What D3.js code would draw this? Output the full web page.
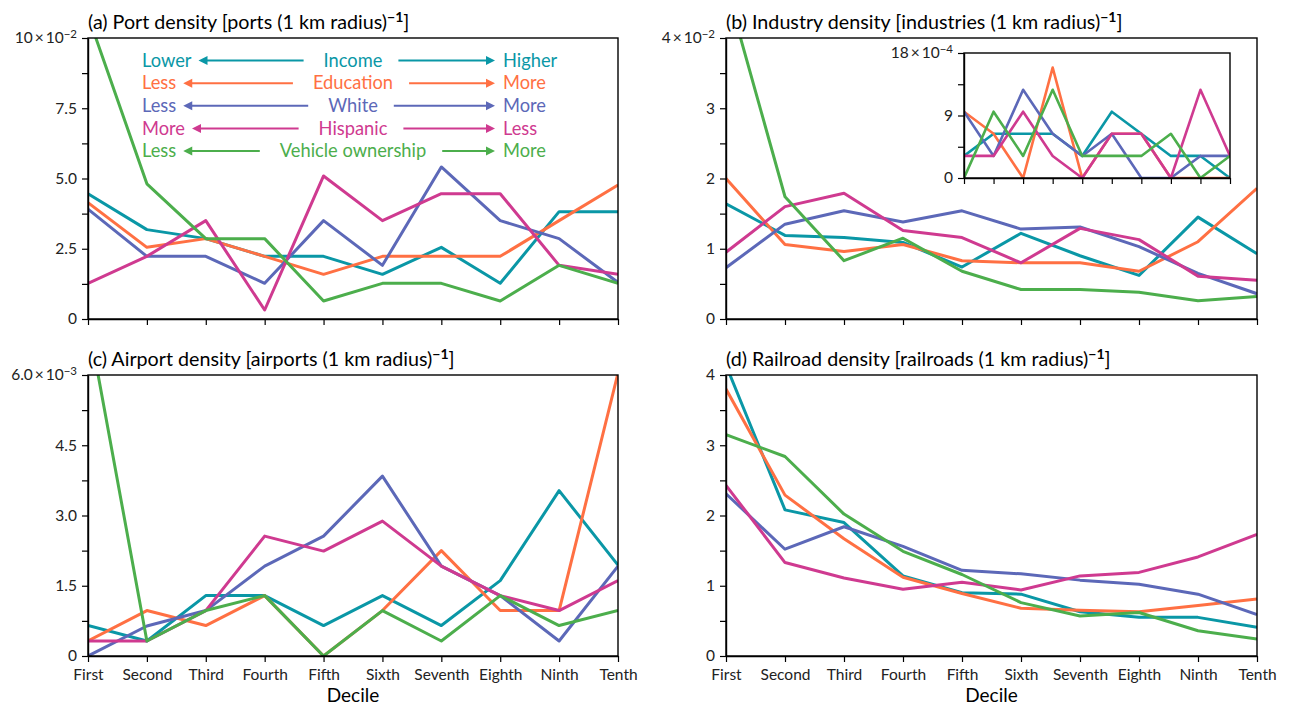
<!DOCTYPE html>
<html>
<head>
<meta charset="utf-8">
<script src="https://cdn.jsdelivr.net/npm/d3@7"></script>
<style>
  body { margin: 0; background: #fff; }
  svg { display: block; font-family: Lato, "Open Sans", sans-serif; }
</style>
</head>
<body>
<svg id="chart" width="1289" height="706"></svg>
<script>
// ---- data -------------------------------------------------------------
const deciles = ["First", "Second", "Third", "Fourth", "Fifth", "Sixth", "Seventh", "Eighth", "Ninth", "Tenth"];
const groups = ["Income", "Education", "White", "Hispanic", "Vehicle ownership"];
const lowLabels = ["Lower", "Less", "Less", "More", "Less"];
const highLabels = ["Higher", "More", "More", "Less", "More"];
const groupColors = ["#0a97a6", "#ff7043", "#5c68b8", "#cf3a90", "#4cae4c"];

// one row per group (Income, Education, White, Hispanic, Vehicle ownership)
// port density, x 1e-2
const portDensity = [
  [4.46, 3.18, 2.86, 2.23, 2.23, 1.59, 2.55, 1.27, 3.82, 3.82],
  [4.14, 2.55, 2.86, 2.23, 1.59, 2.23, 2.23, 2.23, 3.50, 4.77],
  [3.91, 2.23, 2.23, 1.27, 3.50, 1.91, 5.41, 3.50, 2.86, 1.30],
  [1.27, 2.23, 3.50, 0.32, 5.09, 3.50, 4.46, 4.46, 1.91, 1.59],
  [10.8, 4.81, 2.86, 2.86, 0.64, 1.27, 1.27, 0.64, 1.91, 1.27]
];
// industry density, x 1e-2
const industryDensity = [
  [1.64, 1.19, 1.16, 1.09, 0.74, 1.22, 0.90, 0.62, 1.45, 0.93],
  [2.00, 1.06, 0.96, 1.06, 0.83, 0.80, 0.80, 0.68, 1.10, 1.86],
  [0.73, 1.35, 1.54, 1.38, 1.54, 1.28, 1.31, 1.03, 0.65, 0.36],
  [0.95, 1.60, 1.79, 1.26, 1.16, 0.80, 1.29, 1.13, 0.61, 0.55],
  [4.74, 1.74, 0.83, 1.15, 0.68, 0.42, 0.42, 0.38, 0.26, 0.32]
];
// industry density inset, x 1e-4
const industryInset = [
  [3.18, 6.37, 6.37, 6.37, 3.18, 9.55, 6.37, 3.18, 3.18, 0],
  [9.55, 6.37, 0, 15.9, 0, 6.37, 6.37, 0, 0, 0],
  [9.55, 3.18, 12.7, 6.37, 3.18, 6.37, 0, 0, 3.18, 3.18],
  [3.18, 3.18, 9.55, 3.18, 0, 6.37, 6.37, 0, 12.7, 3.18],
  [0, 9.55, 3.18, 12.7, 3.18, 3.18, 3.18, 6.37, 0, 3.18]
];
// airport density, x 1e-3
const airportDensity = [
  [0.65, 0.32, 1.29, 1.29, 0.65, 1.29, 0.65, 1.61, 3.53, 1.94],
  [0.32, 0.97, 0.65, 1.29, 0, 0.97, 2.25, 0.97, 0.97, 6.04],
  [0, 0.64, 0.97, 1.92, 2.56, 3.84, 1.92, 1.29, 0.32, 1.92],
  [0.32, 0.32, 0.97, 2.56, 2.24, 2.88, 1.92, 1.29, 0.97, 1.61],
  [7.18, 0.32, 0.97, 1.29, 0, 0.97, 0.32, 1.29, 0.65, 0.97]
];
// railroad density
const railroadDensity = [
  [4.14, 2.08, 1.90, 1.14, 0.90, 0.88, 0.63, 0.55, 0.55, 0.41],
  [3.80, 2.29, 1.67, 1.12, 0.89, 0.68, 0.65, 0.63, 0.72, 0.81],
  [2.31, 1.52, 1.84, 1.56, 1.22, 1.17, 1.08, 1.02, 0.88, 0.59],
  [2.43, 1.33, 1.11, 0.95, 1.05, 0.94, 1.14, 1.19, 1.41, 1.73],
  [3.15, 2.84, 2.02, 1.49, 1.16, 0.76, 0.57, 0.62, 0.36, 0.24]
];

const portTicks = [0, 2.5, 5.0, 7.5, 10];
const portTickLabels = ["0", "2.5", "5.0", "7.5", "10"];
const industryTicks = [0, 1, 2, 3, 4];
const industryTickLabels = ["0", "1", "2", "3", "4"];
const insetTicks = [0, 9, 18];
const insetTickLabels = ["0", "9", "18"];
const airportTicks = [0, 1.5, 3.0, 4.5, 6.0];
const airportTickLabels = ["0", "1.5", "3.0", "4.5", "6.0"];
const railroadTicks = [0, 1, 2, 3, 4];
const railroadTickLabels = ["0", "1", "2", "3", "4"];

// ---- drawing ----------------------------------------------------------
const svg = d3.select("#chart");
let clipId = 0;

function withMinor(ticks) {
  const out = [];
  ticks.forEach((t, i) => {
    out.push(t);
    if (i < ticks.length - 1) out.push((t + ticks[i + 1]) / 2);
  });
  return out;
}

function drawPanel(cfg) {
  const g = svg.append("g");
  const x = d3.scalePoint().domain(deciles).range([cfg.x0, cfg.x1]);
  const y = d3.scaleLinear().domain([0, cfg.ticks[cfg.ticks.length - 1]]).range([cfg.y1, cfg.y0]);

  if (cfg.background) {
    g.append("rect").attr("x", cfg.x0).attr("y", cfg.y0)
      .attr("width", cfg.x1 - cfg.x0).attr("height", cfg.y1 - cfg.y0).attr("fill", "#fff");
  }

  const id = "clip" + (clipId++);
  g.append("clipPath").attr("id", id).append("rect")
    .attr("x", cfg.x0).attr("y", cfg.y0)
    .attr("width", cfg.x1 - cfg.x0).attr("height", cfg.y1 - cfg.y0);

  const line = d3.line().x((d, i) => x(deciles[i])).y(d => y(d));
  g.append("g").attr("clip-path", `url(#${id})`)
    .selectAll("path").data(cfg.series).join("path")
    .attr("d", line)
    .attr("fill", "none")
    .attr("stroke", (d, i) => groupColors[i])
    .attr("stroke-width", cfg.lineWidth)
    .attr("stroke-linejoin", "round");

  // frame
  g.append("rect").attr("x", cfg.x0).attr("y", cfg.y0)
    .attr("width", cfg.x1 - cfg.x0).attr("height", cfg.y1 - cfg.y0)
    .attr("fill", "none").attr("stroke", "#000").attr("stroke-width", 1.4);

  const labelOf = new Map(cfg.ticks.map((t, i) => [t, cfg.tickLabels[i]]));
  const yAxis = d3.axisLeft(y)
    .tickValues(withMinor(cfg.ticks))
    .tickSize(6).tickSizeOuter(0).tickPadding(5)
    .tickFormat(v => labelOf.has(v) ? labelOf.get(v) : "");
  const ya = g.append("g").attr("transform", `translate(${cfg.x0},0)`).call(yAxis);

  const xAxis = d3.axisBottom(x).tickSize(6).tickSizeOuter(0).tickPadding(7)
    .tickFormat(d => cfg.xLabels ? d : "");
  const xa = g.append("g").attr("transform", `translate(0,${cfg.y1})`).call(xAxis);

  [ya, xa].forEach(a => {
    a.select(".domain").attr("stroke", "#000").attr("stroke-width", 1.4);
    a.selectAll(".tick line").attr("stroke", "#000").attr("stroke-width", 1.2);
    a.selectAll(".tick text").attr("fill", "#222")
      .style("font-family", "Lato, 'Open Sans', sans-serif").style("font-size", "15.5px");
  });

  // exponent on the top y label
  if (cfg.exponent) {
    const top = cfg.ticks[cfg.ticks.length - 1];
    const txt = ya.selectAll(".tick").filter(d => d === top).select("text");
    txt.text(labelOf.get(top) + "\u2009\u00d7\u200910");
    txt.append("tspan").attr("dy", "-0.45em").style("font-size", "11.5px").text(cfg.exponent);
  }

  if (cfg.title) {
    const t = g.append("text").attr("x", cfg.x0).attr("y", cfg.titleY)
      .style("font-size", "19.7px").attr("fill", "#000").text(cfg.title);
    t.append("tspan").attr("dy", -7).style("font-size", "14px").style("font-weight", "bold").text("\u22121");
    t.append("tspan").attr("dy", 7).text("]");
  }

  if (cfg.xTitle) {
    g.append("text").attr("x", (cfg.x0 + cfg.x1) / 2).attr("y", cfg.xTitleY)
      .attr("text-anchor", "middle").style("font-size", "19px").attr("fill", "#000").text(cfg.xTitle);
  }
  return g;
}

drawPanel({ x0: 88, x1: 618, y0: 38, y1: 319, series: portDensity, ticks: portTicks,
  tickLabels: portTickLabels, exponent: "\u22122", lineWidth: 3, xLabels: false,
  title: "(a) Port density [ports (1 km radius)", titleY: 29 });
drawPanel({ x0: 726, x1: 1257, y0: 38, y1: 319, series: industryDensity, ticks: industryTicks,
  tickLabels: industryTickLabels, exponent: "\u22122", lineWidth: 3, xLabels: false,
  title: "(b) Industry density [industries (1 km radius)", titleY: 29 });
drawPanel({ x0: 964, x1: 1230, y0: 53, y1: 178, series: industryInset, ticks: insetTicks,
  tickLabels: insetTickLabels, exponent: "\u22124", lineWidth: 2.6, xLabels: false,
  background: true });
drawPanel({ x0: 88, x1: 618, y0: 375, y1: 656, series: airportDensity, ticks: airportTicks,
  tickLabels: airportTickLabels, exponent: "\u22123", lineWidth: 3, xLabels: true,
  title: "(c) Airport density [airports (1 km radius)", titleY: 366,
  xTitle: "Decile", xTitleY: 702 });
drawPanel({ x0: 726, x1: 1257, y0: 375, y1: 656, series: railroadDensity, ticks: railroadTicks,
  tickLabels: railroadTickLabels, exponent: null, lineWidth: 3, xLabels: true,
  title: "(d) Railroad density [railroads (1 km radius)", titleY: 366,
  xTitle: "Decile", xTitleY: 702 });

// ---- direction key in panel (a) ---------------------------------------
const key = svg.append("g").style("font-size", "18.3px");
const keyRows = d3.scaleLinear().domain([0, 4]).range([60.5, 151]);
const keyLeftX = 142, keyMidX = 353, keyRightX = 503, keyRightTip = 495;

function arrow(g, xFrom, xTip, yy, color) {
  const dir = Math.sign(xTip - xFrom);
  const headLen = 9, headHalf = 4.5;
  g.append("line").attr("x1", xFrom).attr("x2", xTip - dir * headLen + dir)
    .attr("y1", yy).attr("y2", yy).attr("stroke", color).attr("stroke-width", 2);
  g.append("path")
    .attr("d", `M${xTip},${yy} L${xTip - dir * headLen},${yy - headHalf} L${xTip - dir * headLen},${yy + headHalf} Z`)
    .attr("fill", color);
}

groups.forEach((name, i) => {
  const yy = keyRows(i);
  const c = groupColors[i];
  const low = key.append("text").attr("x", keyLeftX).attr("y", yy + 6.3).attr("fill", c).text(lowLabels[i]);
  const mid = key.append("text").attr("x", keyMidX).attr("y", yy + 6.3).attr("text-anchor", "middle").attr("fill", c).text(name);
  key.append("text").attr("x", keyRightX).attr("y", yy + 6.3).attr("fill", c).text(highLabels[i]);
  const lowEnd = keyLeftX + low.node().getComputedTextLength();
  const midW = mid.node().getComputedTextLength();
  arrow(key, keyMidX - midW / 2 - 20, lowEnd + 7, yy, c);
  arrow(key, keyMidX + midW / 2 + 16, keyRightTip, yy, c);
});
</script>
</body>
</html>
